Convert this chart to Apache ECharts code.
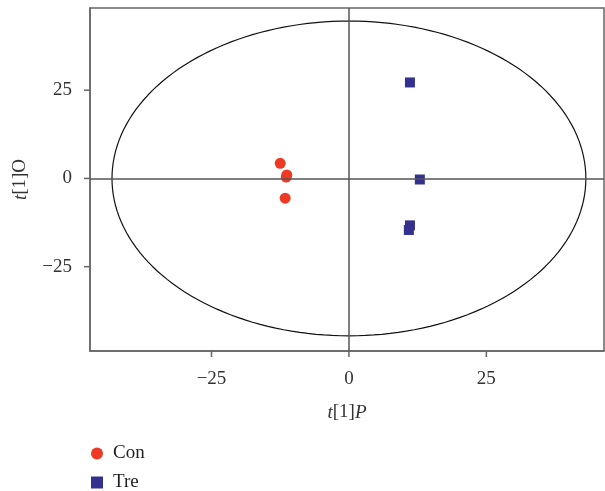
<!DOCTYPE html>
<html>
<head>
<meta charset="utf-8">
<script src="https://cdn.jsdelivr.net/npm/echarts@6/dist/echarts.min.js"></script>
<style>
  html, body { margin: 0; padding: 0; background: #fff; }
  #chart { width: 605px; height: 491px; }
</style>
</head>
<body>
<div id="chart"></div>
<script>
// 得分数据 t[1]P / t[1]O
var conScores = [[-12.5, 4.3], [-11.4, 0.4], [-11.3, 1.0], [-11.6, -5.6]];
var treScores = [[11.1, 27.2], [12.9, -0.3], [11.1, -13.3], [10.9, -14.6]];
var tickValues = [-25, 0, 25];
// Hotelling T2 椭圆半径
var ellipseRx = 43.1;
var ellipseRy = 44.6;
var xMin = -47.1, xMax = 46.4, yMin = -48.9, yMax = 48.3;

var ellipsePts = [];
for (var i = 0; i <= 360; i += 2) {
    var a = i * Math.PI / 180;
    ellipsePts.push([ellipseRx * Math.cos(a), ellipseRy * Math.sin(a)]);
}

var serif = '"Liberation Serif", "DejaVu Serif", serif';
var axisColor = '#666';
var fmt = function (v) { return v < 0 ? '\u2212' + Math.abs(v) : String(v); };

// 轴刻度线 (画在网格外侧)
function tickItem(isX) {
    return function (params, api) {
        var v = api.value(0);
        var p = isX ? api.coord([v, yMin]) : api.coord([xMin, v]);
        var shape = isX
            ? { x1: p[0], y1: p[1], x2: p[0], y2: p[1] + 6 }
            : { x1: p[0], y1: p[1], x2: p[0] - 6, y2: p[1] };
        return { type: 'line', shape: shape, style: { stroke: axisColor, lineWidth: 1.5 } };
    };
}

var chart = echarts.init(document.getElementById('chart'));
chart.setOption({
    animation: false,
    textStyle: { fontFamily: serif },
    grid: {
        left: 90, right: 1, top: 8, bottom: 140,
        show: true, borderColor: axisColor, borderWidth: 1.5
    },
    legend: {
        orient: 'vertical', left: 86, top: 439, height: 60,
        itemWidth: 12, itemHeight: 12, itemGap: 10,
        textStyle: { fontFamily: serif, fontSize: 19, color: '#222', padding: [0, 0, 0, 5] },
        data: [{ name: 'Con', icon: 'circle' }, { name: 'Tre', icon: 'rect' }]
    },
    xAxis: {
        type: 'value', min: xMin, max: xMax,
        name: '{i|t}[1]{i|P}', nameLocation: 'middle', nameGap: 52,
        nameTextStyle: {
            fontFamily: serif, fontSize: 19, color: '#333',
            rich: { i: { fontFamily: serif, fontSize: 19, fontStyle: 'italic', color: '#333' } }
        },
        axisLine: { onZero: false, lineStyle: { color: axisColor, width: 1.5 } },
        axisTick: { show: false },
        axisLabel: { customValues: tickValues, fontFamily: serif, fontSize: 19, color: '#333', margin: 19, formatter: fmt },
        splitLine: { show: false }
    },
    yAxis: {
        type: 'value', min: yMin, max: yMax,
        name: '{i|t}[1]O', nameLocation: 'middle', nameGap: 60, nameRotate: 90,
        nameTextStyle: {
            fontFamily: serif, fontSize: 19, color: '#333',
            rich: { i: { fontFamily: serif, fontSize: 19, fontStyle: 'italic', color: '#333' } }
        },
        axisLine: { onZero: false, lineStyle: { color: axisColor, width: 1.5 } },
        axisTick: { show: false },
        axisLabel: { customValues: tickValues, fontFamily: serif, fontSize: 19, color: '#333', margin: 18, formatter: fmt },
        splitLine: { show: false }
    },
    series: [
        {
            type: 'line', data: ellipsePts, showSymbol: false, silent: true,
            lineStyle: { color: '#111', width: 1.2 },
            markLine: {
                silent: true, symbol: 'none', label: { show: false },
                lineStyle: { color: '#555', width: 1.5, type: 'solid' },
                data: [{ xAxis: 0 }, { yAxis: 0 }]
            },
            z: 1
        },
        {
            type: 'custom', data: tickValues.map(function (v) { return [v]; }),
            renderItem: tickItem(true), clip: false, silent: true, z: 2
        },
        {
            type: 'custom', data: tickValues.map(function (v) { return [v]; }),
            renderItem: tickItem(false), clip: false, silent: true, z: 2
        },
        {
            name: 'Con', type: 'scatter', data: conScores,
            symbol: 'circle', symbolSize: 11,
            itemStyle: { color: '#ee3a24', opacity: 1 }, z: 3
        },
        {
            name: 'Tre', type: 'scatter', data: treScores,
            symbol: 'rect', symbolSize: 10,
            itemStyle: { color: '#33308f', opacity: 1 }, z: 3
        }
    ]
});
</script>
</body>
</html>
